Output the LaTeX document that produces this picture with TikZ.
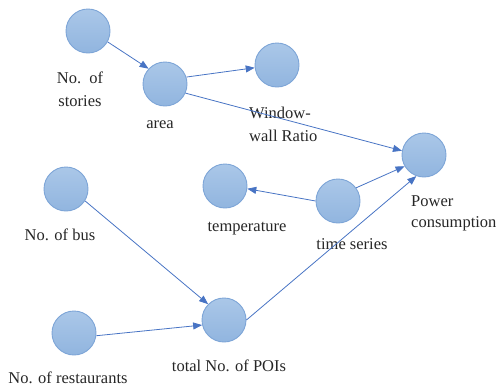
\documentclass[tikz,border=0pt]{standalone}
\usepackage{fontspec}
\setmainfont{Liberation Serif}
\usetikzlibrary{arrows.meta}
\definecolor{cfillt}{RGB}{170,199,232}
\definecolor{cfillb}{RGB}{145,181,223}
\definecolor{cborder}{RGB}{125,165,215}
\definecolor{cline}{RGB}{72,116,196}
\tikzset{
  var/.style={circle, minimum size=44pt, inner sep=0pt, draw=cborder, line width=0.9pt, top color=cfillt, bottom color=cfillb},
  lab/.style={font=\fontsize{16.5}{23}\selectfont, inner sep=0pt, text=black!85},
  labl/.style={lab, anchor=west, align=left},
  conn/.style={draw=cline, line width=0.8pt, -{Triangle[length=9pt,width=7pt]}},
}
\begin{document}
\begin{tikzpicture}[x=1pt,y=-1pt]
\useasboundingbox (0,0) rectangle (498,386);
\node[var] (stories) at (88,31) {};
\node[var] (area) at (165,84) {};
\node[var] (window) at (277,65) {};
\node[var] (power) at (424,155) {};
\node[var] (temp) at (225,186) {};
\node[var] (ts) at (338,201) {};
\node[var] (bus) at (66,189) {};
\node[var] (rest) at (74,333) {};
\node[var] (poi) at (224,320) {};

\node[lab] (lstories1) at (80,78) {No.\ \ of};
\node[lab] (lstories2) at (80,101) {stories};
\node[lab] (larea) at (160,125) {area};
\node[labl] (lwin1) at (249,113) {Window-};
\node[labl] (lwin2) at (249,136) {wall Ratio};
\node[labl] (lpow1) at (411,201) {Power};
\node[labl] (lpow2) at (411,224) {consumption};
\node[lab] (ltemp) at (247,229) {temperature};
\node[lab] (lts) at (352,244) {time series};
\node[lab] (lbus) at (60,235) {No. of bus};
\node[lab] (lpoi) at (229,366) {total No. of POIs};
\node[lab] (lrest) at (68,377.5) {No. of restaurants};

\draw[conn] (stories.-29) -- (area.137);
\draw[conn] (area.18) -- (window.187);
\draw[conn] (area.-24) -- (power.169);
\draw[conn] (ts.180) -- (temp.-7);
\draw[conn] (ts.36) -- (power.210);
\draw[conn] (poi.0) -- (power.250);
\draw[conn] (bus.-32) -- (poi.135);
\draw[conn] (rest.-7) -- (poi.193);
\end{tikzpicture}
\end{document}
